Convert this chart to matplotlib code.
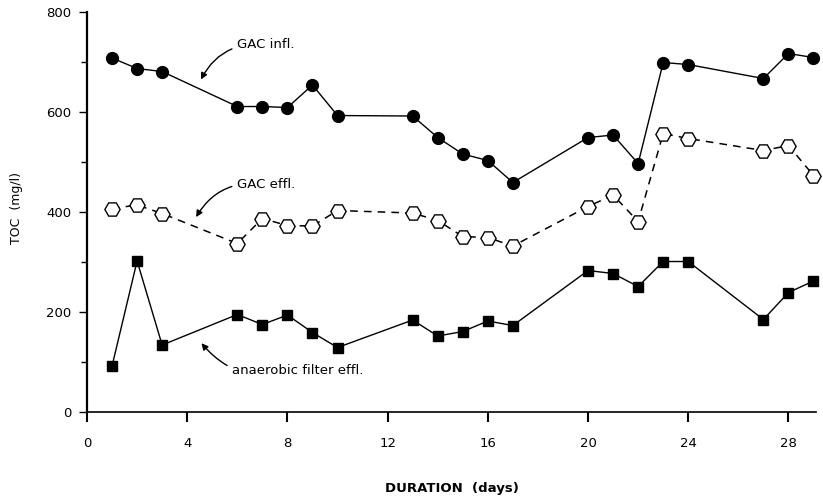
import matplotlib.pyplot as plt
from matplotlib.ticker import MultipleLocator

# TOC over the run
DAYS = [1, 2, 3, 6, 7, 8, 9, 10, 13, 14, 15, 16, 17, 20, 21, 22, 23, 24, 27, 28, 29]
GAC_INFL = [708, 687, 681, 611, 611, 609, 654, 593, 592, 549, 516, 503, 459,
            549, 554, 497, 699, 695, 667, 717, 709]
GAC_EFFL = [407, 414, 397, 337, 387, 373, 372, 403, 398, 383, 351, 349, 332,
            411, 434, 381, 557, 547, 523, 533, 473]
ANAEROBIC = [92, 302, 134, 195, 175, 194, 159, 129, 184, 152, 161, 182, 173,
             283, 277, 251, 301, 301, 185, 239, 262]
XTICKS = [0, 4, 8, 12, 16, 20, 24, 28]
YTICKS = [0, 200, 400, 600, 800]

plt.rcParams["font.family"] = ["DejaVu Sans"]

fig = plt.figure(figsize=(8.23, 5.01), dpi=100)
ax = fig.add_axes([0.1057, 0.1776, 0.8858, 0.7984])

ax.plot(DAYS, GAC_INFL, color="black", lw=1.0, marker="o", ms=8.5,
        mfc="black", mec="black", clip_on=False)
ax.plot(DAYS, GAC_EFFL, color="black", lw=1.1, ls=(0, (5, 4)), marker="H",
        ms=11, mfc="white", mec="black", mew=1.0, clip_on=False)
ax.plot(DAYS, ANAEROBIC, color="black", lw=1.0, marker="s", ms=7.5,
        mfc="black", mec="black", clip_on=False)

ax.set_xlim(0, 29.1)
ax.set_ylim(0, 800)
ax.set_xticks(XTICKS)
ax.set_yticks(YTICKS)
ax.yaxis.set_minor_locator(MultipleLocator(100))
for side in ("top", "right"):
    ax.spines[side].set_visible(False)
ax.spines["left"].set_linewidth(1.6)
ax.spines["bottom"].set_linewidth(1.2)
ax.tick_params(axis="x", direction="out", length=7, width=1.5, pad=11,
               labelsize=9.5)
ax.tick_params(axis="y", direction="out", length=6, width=1.0, pad=5,
               labelsize=9.5)
ax.tick_params(axis="y", which="minor", length=4, width=1.0)

ax.set_xlabel("DURATION  (days)", fontsize=9.5, fontweight="bold",
              labelpad=23)
ax.set_ylabel("TOC  (mg/l)", fontsize=9)
ax.yaxis.set_label_coords(-0.088, 0.51)

arrow = dict(arrowstyle="-|>", color="black", lw=1.0,
             connectionstyle="arc3,rad=0.35")
ax.annotate("GAC infl.", xy=(4.5, 660), xytext=(6.0, 735), fontsize=9.5,
            va="center", arrowprops=arrow)
ax.annotate("GAC effl.", xy=(4.3, 385), xytext=(6.0, 455), fontsize=9.5,
            va="center", arrowprops=arrow)
ax.annotate("anaerobic filter effl.", xy=(4.5, 142), xytext=(5.8, 84),
            fontsize=9.5, va="center",
            arrowprops=dict(arrowstyle="-|>", color="black", lw=1.0,
                            connectionstyle="arc3,rad=-0.35"))

fig.savefig("out.png", dpi=100)
